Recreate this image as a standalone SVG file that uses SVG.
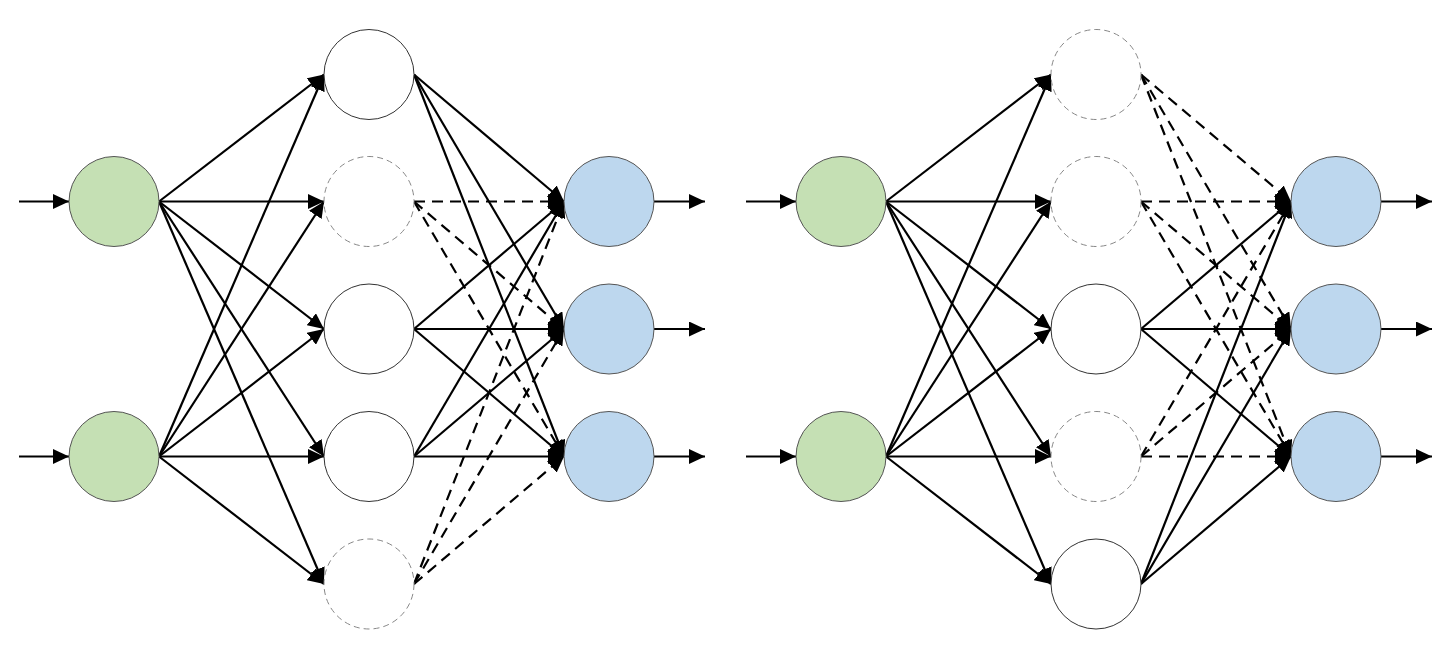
<svg xmlns="http://www.w3.org/2000/svg" width="1448" height="656" viewBox="0 0 1448 656">
<style>
.in{fill:#c5e0b4;stroke:#555;stroke-width:1}
.out{fill:#bdd7ee;stroke:#555;stroke-width:1}
.hid{fill:#fff;stroke:#333;stroke-width:1}
.drop{fill:#fff;stroke:#888;stroke-width:1;stroke-dasharray:6 4}
.c{stroke:#000;stroke-width:2.2;fill:none;marker-end:url(#ah)}
.d{stroke:#000;stroke-width:2.2;fill:none;stroke-dasharray:11 7;marker-end:url(#ah)}
</style>
<defs>
<marker id="ah" viewBox="0 0 16 15" refX="16" refY="7.5" markerWidth="16" markerHeight="15" markerUnits="userSpaceOnUse" orient="auto">
<path d="M0,0 L16,7.5 L0,15 Z" fill="#000"/>
</marker>
</defs>
<rect width="1448" height="656" fill="#fff"/>
<g id="connectors">
<!-- left network -->
<line class="c" x1="19" y1="201.5" x2="69" y2="201.5"/>
<line class="c" x1="19" y1="456.5" x2="69" y2="456.5"/>
<line class="c" x1="159" y1="201.5" x2="324" y2="74.5"/>
<line class="c" x1="159" y1="201.5" x2="324" y2="201.5"/>
<line class="c" x1="159" y1="201.5" x2="324" y2="329"/>
<line class="c" x1="159" y1="201.5" x2="324" y2="456.5"/>
<line class="c" x1="159" y1="201.5" x2="324" y2="584"/>
<line class="c" x1="159" y1="456.5" x2="324" y2="74.5"/>
<line class="c" x1="159" y1="456.5" x2="324" y2="201.5"/>
<line class="c" x1="159" y1="456.5" x2="324" y2="329"/>
<line class="c" x1="159" y1="456.5" x2="324" y2="456.5"/>
<line class="c" x1="159" y1="456.5" x2="324" y2="584"/>
<line class="c" x1="414" y1="74.5" x2="564" y2="201.5"/>
<line class="c" x1="414" y1="74.5" x2="564" y2="329"/>
<line class="c" x1="414" y1="74.5" x2="564" y2="456.5"/>
<line class="d" x1="414" y1="201.5" x2="564" y2="201.5"/>
<line class="d" x1="414" y1="201.5" x2="564" y2="329"/>
<line class="d" x1="414" y1="201.5" x2="564" y2="456.5"/>
<line class="c" x1="414" y1="329" x2="564" y2="201.5"/>
<line class="c" x1="414" y1="329" x2="564" y2="329"/>
<line class="c" x1="414" y1="329" x2="564" y2="456.5"/>
<line class="c" x1="414" y1="456.5" x2="564" y2="201.5"/>
<line class="c" x1="414" y1="456.5" x2="564" y2="329"/>
<line class="c" x1="414" y1="456.5" x2="564" y2="456.5"/>
<line class="d" x1="414" y1="584" x2="564" y2="201.5"/>
<line class="d" x1="414" y1="584" x2="564" y2="329"/>
<line class="d" x1="414" y1="584" x2="564" y2="456.5"/>
<line class="c" x1="654" y1="201.5" x2="705" y2="201.5"/>
<line class="c" x1="654" y1="329" x2="705" y2="329"/>
<line class="c" x1="654" y1="456.5" x2="705" y2="456.5"/>
<!-- right network -->
<line class="c" x1="746" y1="201.5" x2="796" y2="201.5"/>
<line class="c" x1="746" y1="456.5" x2="796" y2="456.5"/>
<line class="c" x1="886" y1="201.5" x2="1051" y2="74.5"/>
<line class="c" x1="886" y1="201.5" x2="1051" y2="201.5"/>
<line class="c" x1="886" y1="201.5" x2="1051" y2="329"/>
<line class="c" x1="886" y1="201.5" x2="1051" y2="456.5"/>
<line class="c" x1="886" y1="201.5" x2="1051" y2="584"/>
<line class="c" x1="886" y1="456.5" x2="1051" y2="74.5"/>
<line class="c" x1="886" y1="456.5" x2="1051" y2="201.5"/>
<line class="c" x1="886" y1="456.5" x2="1051" y2="329"/>
<line class="c" x1="886" y1="456.5" x2="1051" y2="456.5"/>
<line class="c" x1="886" y1="456.5" x2="1051" y2="584"/>
<line class="d" x1="1141" y1="74.5" x2="1291" y2="201.5"/>
<line class="d" x1="1141" y1="74.5" x2="1291" y2="329"/>
<line class="d" x1="1141" y1="74.5" x2="1291" y2="456.5"/>
<line class="d" x1="1141" y1="201.5" x2="1291" y2="201.5"/>
<line class="d" x1="1141" y1="201.5" x2="1291" y2="329"/>
<line class="d" x1="1141" y1="201.5" x2="1291" y2="456.5"/>
<line class="c" x1="1141" y1="329" x2="1291" y2="201.5"/>
<line class="c" x1="1141" y1="329" x2="1291" y2="329"/>
<line class="c" x1="1141" y1="329" x2="1291" y2="456.5"/>
<line class="d" x1="1141" y1="456.5" x2="1291" y2="201.5"/>
<line class="d" x1="1141" y1="456.5" x2="1291" y2="329"/>
<line class="d" x1="1141" y1="456.5" x2="1291" y2="456.5"/>
<line class="c" x1="1141" y1="584" x2="1291" y2="201.5"/>
<line class="c" x1="1141" y1="584" x2="1291" y2="329"/>
<line class="c" x1="1141" y1="584" x2="1291" y2="456.5"/>
<line class="c" x1="1381" y1="201.5" x2="1432" y2="201.5"/>
<line class="c" x1="1381" y1="329" x2="1432" y2="329"/>
<line class="c" x1="1381" y1="456.5" x2="1432" y2="456.5"/>
</g>
<g id="L-in1"><circle class="in" cx="114" cy="201.5" r="45"/></g>
<g id="L-in2"><circle class="in" cx="114" cy="456.5" r="45"/></g>
<g id="L-h1"><circle class="hid" cx="369" cy="74.5" r="45"/></g>
<g id="L-h2"><circle class="drop" cx="369" cy="201.5" r="45"/></g>
<g id="L-h3"><circle class="hid" cx="369" cy="329" r="45"/></g>
<g id="L-h4"><circle class="hid" cx="369" cy="456.5" r="45"/></g>
<g id="L-h5"><circle class="drop" cx="369" cy="584" r="45"/></g>
<g id="L-o1"><circle class="out" cx="609" cy="201.5" r="45"/></g>
<g id="L-o2"><circle class="out" cx="609" cy="329" r="45"/></g>
<g id="L-o3"><circle class="out" cx="609" cy="456.5" r="45"/></g>
<g id="R-in1"><circle class="in" cx="841" cy="201.5" r="45"/></g>
<g id="R-in2"><circle class="in" cx="841" cy="456.5" r="45"/></g>
<g id="R-h1"><circle class="drop" cx="1096" cy="74.5" r="45"/></g>
<g id="R-h2"><circle class="drop" cx="1096" cy="201.5" r="45"/></g>
<g id="R-h3"><circle class="hid" cx="1096" cy="329" r="45"/></g>
<g id="R-h4"><circle class="drop" cx="1096" cy="456.5" r="45"/></g>
<g id="R-h5"><circle class="hid" cx="1096" cy="584" r="45"/></g>
<g id="R-o1"><circle class="out" cx="1336" cy="201.5" r="45"/></g>
<g id="R-o2"><circle class="out" cx="1336" cy="329" r="45"/></g>
<g id="R-o3"><circle class="out" cx="1336" cy="456.5" r="45"/></g>
</svg>
